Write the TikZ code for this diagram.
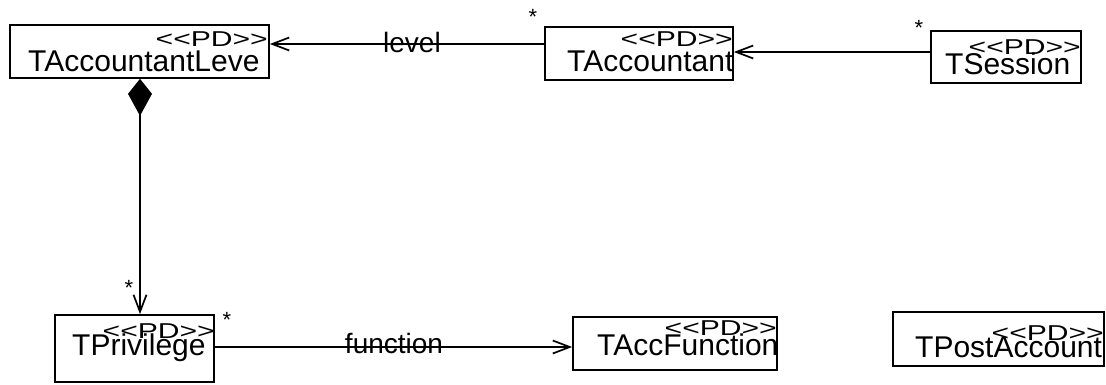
\documentclass[tikz,border=0pt]{standalone}
\usepackage{fontspec}
\setmainfont{Liberation Sans}
\newfontfamily\stereofont[FakeStretch=1.4]{Liberation Sans}
\usetikzlibrary{arrows.meta}
\tikzset{
  cls/.style={draw=black, line width=1.7pt, rectangle, inner sep=0pt, fill=none},
  nametext/.style={anchor=base west, inner sep=0pt, font=\fontsize{30}{36}\selectfont},
  stereo/.style={anchor=base east, inner sep=0pt, font=\stereofont\fontsize{21.5}{25}\selectfont},
  lbl/.style={anchor=base, inner sep=0pt, font=\fontsize{28}{32}\selectfont},
  mult/.style={anchor=base, inner sep=0pt, font=\fontsize{22}{26}\selectfont},
  assoc/.style={draw=black, line width=1.7pt, -{Straight Barb[length=17pt,width=13pt]}},
  comp/.style={draw=black, line width=1.7pt, {Kite[length=37pt,width=24pt,inset=22pt]}-{Straight Barb[length=17pt,width=13pt]}}
}
\begin{document}
\begin{tikzpicture}[x=1pt,y=-1pt]
\useasboundingbox (0,0) rectangle (1106,385);

% classes
\node[cls, minimum width=259pt, minimum height=53pt] (lev) at (139.5,51.5) {};
\node[cls, minimum width=188pt, minimum height=53pt] (acc) at (639,53.5) {};
\node[cls, minimum width=150pt, minimum height=52pt] (ses) at (1006,57) {};
\node[cls, minimum width=159pt, minimum height=67pt] (prv) at (134.5,348.5) {};
\node[cls, minimum width=204pt, minimum height=53pt] (fun) at (675,343.5) {};
\node[cls, minimum width=211pt, minimum height=54pt] (post) at (998.5,339) {};

\begin{scope}
\clip (lev.south west) rectangle (lev.north east);
\node[stereo] (levs) at (268,47) {<<PD>>};
\node[nametext] (levn) at (28,72) {TAccountantLeve};
\end{scope}
\begin{scope}
\clip (acc.south west) rectangle (acc.north east);
\node[stereo] (accs) at (733,47) {<<PD>>};
\node[nametext] (accn) at (567,72) {TAccountant};
\end{scope}
\begin{scope}
\clip (ses.south west) rectangle (ses.north east);
\node[stereo] (sess) at (1081,55) {<<PD>>};
\node[nametext] (sesn) at (945,75) {TSession};
\end{scope}
\begin{scope}
\clip (prv.south west) rectangle (prv.north east);
\node[stereo] (prvs) at (215,338) {<<PD>>};
\node[nametext] (prvn) at (72,355) {TPrivilege};
\end{scope}
\begin{scope}
\clip (fun.south west) rectangle (fun.north east);
\node[stereo] (funs) at (777,335) {<<PD>>};
\node[nametext] (funn) at (597,355) {TAccFunction};
\end{scope}
\begin{scope}
\clip (post.south west) rectangle (post.north east);
\node[stereo] (posts) at (1104,340) {<<PD>>};
\node[nametext] (postn) at (915,357) {TPostAccount};
\end{scope}

% connectors
\draw[assoc] (acc.west |- 0,44) -- (lev.east |- 0,44);
\draw[assoc] (ses.west |- 0,52) -- (acc.east |- 0,52);
\draw[comp] (lev.south -| 140,0) -- (prv.north -| 140,0);
\draw[assoc] (prv.east |- 0,347) -- (fun.west |- 0,347);

% labels
\node[lbl] (lvl) at (412,53) {level};
\node[lbl] (fn) at (394,353) {function};

% multiplicities
\node[mult] (m1) at (533,25) {*};
\node[mult] (m2) at (919,36) {*};
\node[mult] (m3) at (129,295) {*};
\node[mult] (m4) at (227,327) {*};
\end{tikzpicture}
\end{document}
